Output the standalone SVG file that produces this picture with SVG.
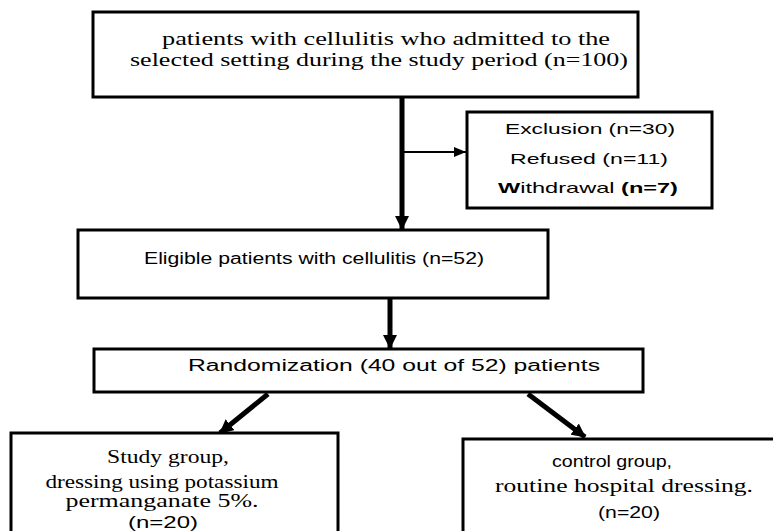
<svg xmlns="http://www.w3.org/2000/svg" width="773" height="531" viewBox="0 0 773 531">
<style>
.box{fill:#fff;stroke:#000;stroke-width:3}
.serif{font-family:"Liberation Serif","Times New Roman",serif;font-size:19px;fill:#000}
.sans{font-family:"Liberation Sans",Arial,sans-serif;font-size:15px;fill:#000}
.big{font-size:16px}
.sm{font-size:18px}
.line{stroke:#000;fill:none}
</style>
<defs>
<marker id="ah" markerUnits="userSpaceOnUse" markerWidth="14" markerHeight="14" viewBox="0 0 14 14" refX="13" refY="7" orient="auto">
<path d="M0,0 L14,7 L0,14 z" fill="#000"/>
</marker>
<marker id="ahs" markerUnits="userSpaceOnUse" markerWidth="12" markerHeight="10" viewBox="0 0 12 10" refX="12" refY="5" orient="auto">
<path d="M0,0 L12,5 L0,10 z" fill="#000"/>
</marker>
</defs>
<rect width="773" height="531" fill="#fff"/>
<g id="connectors">
<line class="line" x1="402" y1="97" x2="402" y2="229" stroke-width="5" marker-end="url(#ah)"/>
<line class="line" x1="404" y1="152" x2="466" y2="152" stroke-width="2" marker-end="url(#ahs)"/>
<line class="line" x1="390" y1="298" x2="390" y2="348" stroke-width="5" marker-end="url(#ah)"/>
<line class="line" x1="268" y1="394" x2="220" y2="433" stroke-width="5" marker-end="url(#ah)"/>
<line class="line" x1="528" y1="394" x2="585" y2="437" stroke-width="5" marker-end="url(#ah)"/>
</g>
<g id="n-patients">
<rect class="box" x="93" y="12" width="545" height="85"/>
<text class="serif" x="386" y="45" text-anchor="middle" textLength="448" lengthAdjust="spacingAndGlyphs">patients with cellulitis who admitted to the</text>
<text class="serif" x="379" y="66" text-anchor="middle" textLength="498" lengthAdjust="spacingAndGlyphs">selected setting during the study period (n=100)</text>
</g>
<g id="n-exclusion">
<rect class="box" x="467" y="112" width="245" height="96"/>
<text class="sans" x="590" y="134" text-anchor="middle" textLength="170" lengthAdjust="spacingAndGlyphs">Exclusion (n=30)</text>
<text class="sans" x="589" y="164" text-anchor="middle" textLength="158" lengthAdjust="spacingAndGlyphs">Refused (n=11)</text>
<text class="sans" x="588" y="193" text-anchor="middle" textLength="180" lengthAdjust="spacingAndGlyphs"><tspan font-weight="bold">W</tspan>ithdrawal <tspan font-weight="bold">(n=7)</tspan></text>
</g>
<g id="n-eligible">
<rect class="box" x="78" y="230" width="470" height="68"/>
<text class="sans big" x="314" y="264" text-anchor="middle" textLength="340" lengthAdjust="spacingAndGlyphs">Eligible patients with cellulitis (n=52)</text>
</g>
<g id="n-randomization">
<rect class="box" x="94" y="349" width="549" height="43"/>
<text class="sans big" x="394" y="371" text-anchor="middle" textLength="412" lengthAdjust="spacingAndGlyphs">Randomization (40 out of 52) patients</text>
</g>
<g id="n-study">
<rect class="box" x="11" y="433" width="327" height="110"/>
<text class="serif" x="168" y="463" text-anchor="middle" textLength="122" lengthAdjust="spacingAndGlyphs">Study group,</text>
<text class="serif sm" x="162" y="488" text-anchor="middle" textLength="233" lengthAdjust="spacingAndGlyphs">dressing using potassium</text>
<text class="serif sm" x="162" y="507" text-anchor="middle" textLength="193" lengthAdjust="spacingAndGlyphs">permanganate 5%.</text>
<text class="sans big" x="163" y="528" text-anchor="middle" textLength="70" lengthAdjust="spacingAndGlyphs">(n=20)</text>
</g>
<g id="n-control">
<rect class="box" x="463" y="439" width="330" height="110"/>
<text class="sans big" x="612" y="467" text-anchor="middle" textLength="120" lengthAdjust="spacingAndGlyphs">control group,</text>
<text class="serif" x="624" y="492" text-anchor="middle" textLength="258" lengthAdjust="spacingAndGlyphs">routine hospital dressing.</text>
<text class="sans big" x="629" y="518" text-anchor="middle" textLength="62" lengthAdjust="spacingAndGlyphs">(n=20)</text>
</g>
</svg>
